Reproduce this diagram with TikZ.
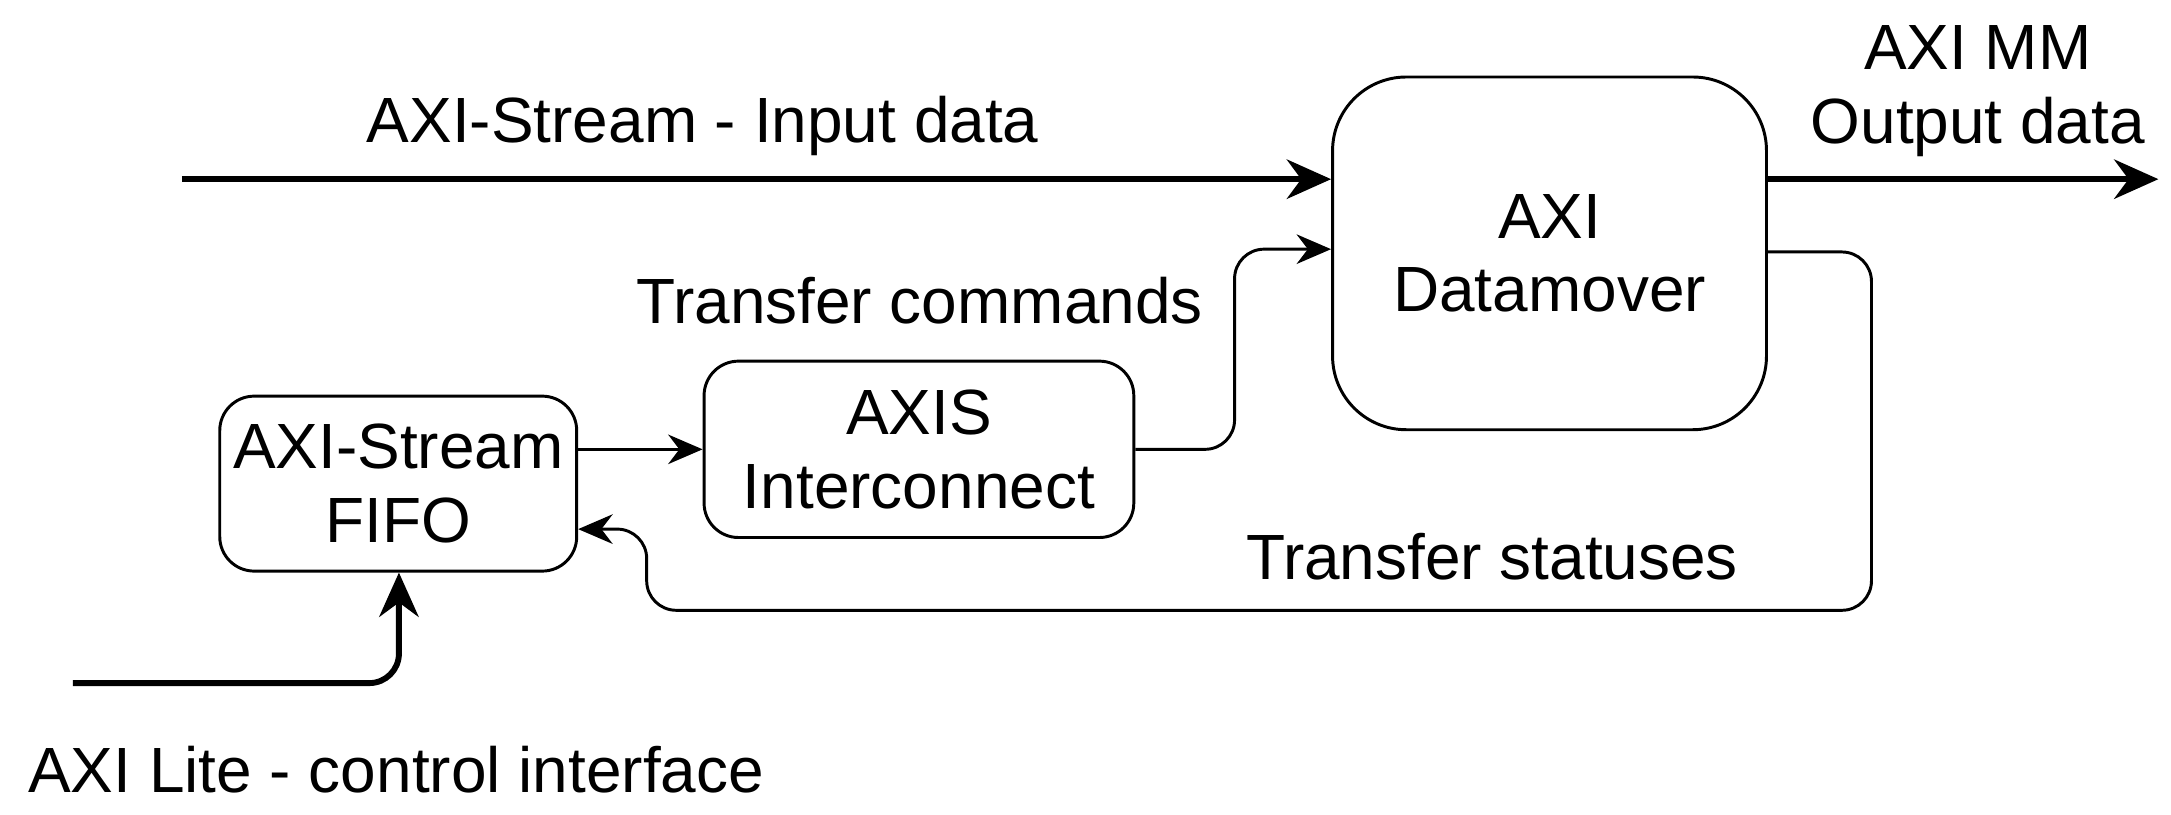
\documentclass[tikz,border=0pt]{standalone}
\usepackage{fontspec}
\setmainfont{Liberation Sans}
\usetikzlibrary{arrows.meta}
\begin{document}
\begin{tikzpicture}[x=0.02cm,y=-0.02cm,
  every node/.style={font=\fontsize{26}{30}\selectfont, align=center},
  box/.style={draw, line width=1.2pt, inner sep=0pt},
  thin/.style={line width=1.2pt, -{Stealth[length=14pt,width=12pt]}, rounded corners=12pt},
  thick/.style={line width=2.4pt, -{Stealth[length=18pt,width=16pt]}, rounded corners=12pt}]
\useasboundingbox (0,0) rectangle (1551,582);
\node[box, rounded corners=30pt, minimum width=310*0.02cm, minimum height=252*0.02cm] (dm) at (1107,181) {AXI\\Datamover};
\node[box, rounded corners=14pt, minimum width=307*0.02cm, minimum height=126*0.02cm] (ic) at (656.5,321) {AXIS\\Interconnect};
\node[box, rounded corners=14pt, minimum width=255*0.02cm, minimum height=125*0.02cm] (ff) at (284.5,345.5) {AXI-Stream\\FIFO};
\coordinate (in) at (130,128);
\coordinate (out) at (1542,128);
\coordinate (lite) at (52,488);
\draw[thick] (in) -- (dm.west |- in);
\draw[thick] (dm.east |- out) -- (out);
\draw[thin] (ff.east |- ic.west) -- (ic.west);
\draw[thin] (ic.east) -- (882,321) -- (882,178) -- (dm.west |- 0,178);
\draw[thin] (dm.east |- 0,180) -- (1337,180) -- (1337,436) -- (462,436) -- (462,378) -- (ff.east |- 0,378);
\draw[thick] (lite) -- (285,488) -- (ff.south -| 285,0);
\node at (502,90) {AXI-Stream - Input data};
\node at (1413,65) {AXI MM\\Output data};
\node at (657,215) {Transfer commands};
\node at (1066,398) {Transfer statuses};
\node at (283,550) {AXI Lite - control interface};
\end{tikzpicture}
\end{document}
